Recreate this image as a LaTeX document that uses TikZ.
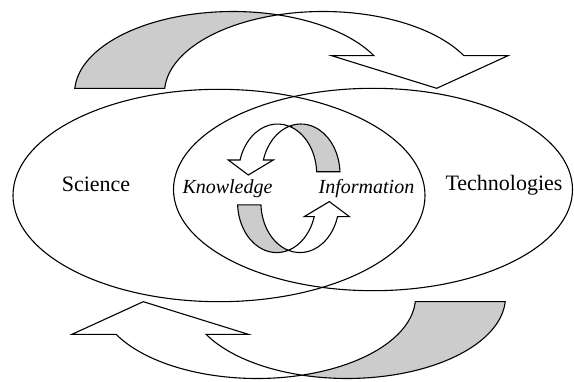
\documentclass[tikz,border=0pt]{standalone}
\usepackage{fontspec}
\setmainfont{Liberation Serif}
\begin{document}
\begin{tikzpicture}[x=1pt,y=1pt,
  outline/.style={draw=black, line width=1.1pt},
  frontband/.style={outline, fill=white, line join=miter},
  backband/.style={outline, fill=black!20, line join=miter},
  biglbl/.style={anchor=base, font=\fontsize{22}{26}\selectfont},
  smalllbl/.style={anchor=base, font=\fontsize{20}{24}\selectfont\itshape}]
\useasboundingbox (0,0) rectangle (574,381);
% big ellipses
\draw[outline] (219,185.5) ellipse [x radius=206, y radius=106.2];
\draw[outline] (373,191.5) ellipse [x radius=199.5, y radius=101.2];
% big curved arrow (top), and its copy rotated (bottom)
\newcommand\BigCurvArrow{%
  \path[backband] ([shift={(233,288)}]176.7:158.5 and 81.5)
    arc[start angle=176.7, end angle=73.51, x radius=158.5, y radius=81.5]
    arc[start angle=106.49, end angle=176.7, x radius=158.5, y radius=81.5] -- cycle;
  \path[frontband] ([shift={(323,288)}]106.49:158.5 and 81.5)
    arc[start angle=106.49, end angle=27.24, x radius=158.5, y radius=81.5]
    -- (508,325.3) -- (436.7,292.7) -- (331.7,325.3)
    -- ([shift={(233,288)}]27.24:158.5 and 81.5)
    arc[start angle=27.24, end angle=73.51, x radius=158.5, y radius=81.5] -- cycle;}
\BigCurvArrow
\begin{scope}[rotate around={180:(290,186)}]
  \BigCurvArrow
\end{scope}
% small curved arrows (upper, and lower rotated)
\newcommand\SmallCurvArrow{%
  \path[backband] ([shift={(300.9,207)}]2.6:39.1 and 50)
    arc[start angle=2.6, end angle=107.34, x radius=39.1, y radius=50]
    arc[start angle=72.66, end angle=2.6, x radius=39.1, y radius=50] -- cycle;
  \path[frontband] ([shift={(277.6,207)}]72.66:39.1 and 50)
    arc[start angle=72.66, end angle=163.74, x radius=39.1, y radius=50]
    -- (228.3,221) -- (248.3,206) -- (273.3,221)
    -- ([shift={(300.9,207)}]163.74:39.1 and 50)
    arc[start angle=163.74, end angle=107.34, x radius=39.1, y radius=50] -- cycle;}
\SmallCurvArrow
\begin{scope}[rotate around={180:(288.8,192.7)}]
  \SmallCurvArrow
\end{scope}
% labels
\node[biglbl] (sci) at (96,189.3) {Science};
\node[biglbl] (tech) at (504,190) {Technologies};
\node[smalllbl] (know) at (227.5,187.7) {Knowledge};
\node[smalllbl] (info) at (366.5,187.7) {Information};
\end{tikzpicture}
\end{document}
